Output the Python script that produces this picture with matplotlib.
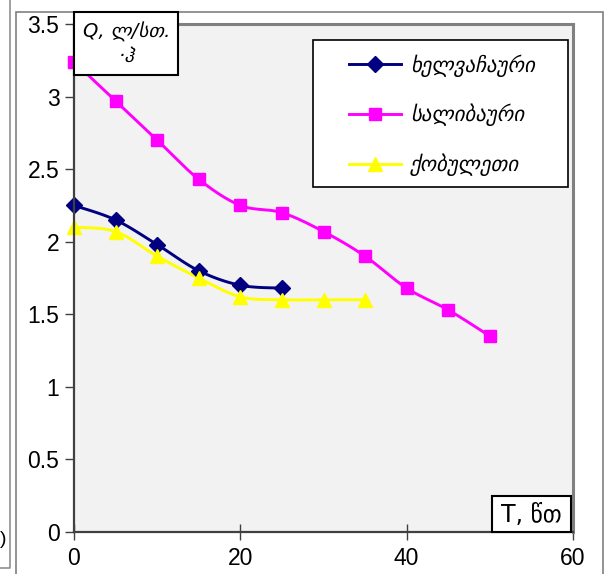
import numpy as np
import matplotlib
matplotlib.use("Agg")
import matplotlib.pyplot as plt
from matplotlib.patches import Rectangle
from matplotlib.lines import Line2D

# data
t_khelv = [0, 5, 10, 15, 20, 25]
q_khelv = [2.25, 2.15, 1.98, 1.80, 1.70, 1.68]
t_salib = [0, 5, 10, 15, 20, 25, 30, 35, 40, 45, 50]
q_salib = [3.24, 2.97, 2.70, 2.43, 2.25, 2.20, 2.07, 1.90, 1.68, 1.53, 1.35]
t_kobul = [0, 5, 10, 15, 20, 25, 30, 35]
q_kobul = [2.10, 2.07, 1.90, 1.75, 1.62, 1.60, 1.60, 1.60]

names = ["ხელვაჩაური", "სალიბაური", "ქობულეთი"]
colors = ["#000080", "#FF00FF", "#FFFF00"]
markers = ["D", "s", "^"]
msizes = [8, 9, 9.5]

x_ticks = [0, 20, 40, 60]
y_ticks = [0, 0.5, 1, 1.5, 2, 2.5, 3, 3.5]


def smooth(x, y, n=24):
    # excel-like smoothed line (catmull-rom as cubic bezier)
    x = np.asarray(x, float)
    y = np.asarray(y, float)
    px, py = [x[0]], [y[0]]
    for i in range(len(x) - 1):
        x0, y0 = (x[i - 1], y[i - 1]) if i > 0 else (x[i], y[i])
        x3, y3 = (x[i + 2], y[i + 2]) if i + 2 < len(x) else (x[i + 1], y[i + 1])
        x1, y1 = x[i], y[i]
        x2, y2 = x[i + 1], y[i + 1]
        c1x, c1y = x1 + (x2 - x0) / 6, y1 + (y2 - y0) / 6
        c2x, c2y = x2 - (x3 - x1) / 6, y2 - (y3 - y1) / 6
        s = np.linspace(0, 1, n)[1:]
        bx = (1 - s) ** 3 * x1 + 3 * (1 - s) ** 2 * s * c1x + 3 * (1 - s) * s ** 2 * c2x + s ** 3 * x2
        by = (1 - s) ** 3 * y1 + 3 * (1 - s) ** 2 * s * c1y + 3 * (1 - s) * s ** 2 * c2y + s ** 3 * y2
        px.extend(bx)
        py.extend(by)
    return px, py


W, H = 605, 574
fig = plt.figure(figsize=(W / 100, H / 100), dpi=100)
fig.patch.set_facecolor("white")


def fx(p):
    return p / W


def fy(p):
    return 1 - p / H


# surrounding frames (chart area + neighbouring chart edge)
fig.add_artist(Rectangle((fx(16), fy(590)), fx(603) - fx(16), fy(12) - fy(590),
                         transform=fig.transFigure, fill=False, ec="#808080", lw=1.2))
fig.add_artist(Line2D([fx(10), fx(10), fx(-5)], [fy(-5), fy(568), fy(568)],
                      transform=fig.transFigure, color="#909090", lw=1.2))
fig.text(fx(0), fy(539), ")", ha="left", va="center", fontsize=14,
         family="Liberation Sans")

ax = fig.add_axes([fx(74), 1 - 532 / H, 499 / W, 508 / H])
ax.set_facecolor("#F2F2F2")

series = [(t_khelv, q_khelv), (t_salib, q_salib), (t_kobul, q_kobul)]
handles = []
for (t, q), name, c, m, ms in zip(series, names, colors, markers, msizes):
    sx, sy = smooth(t, q)
    ax.plot(sx, sy, color=c, lw=2.1, zorder=3)
    ax.plot(t, q, ls="none", marker=m, ms=ms, color=c, mec=c, zorder=4, clip_on=False)
    handles.append(Line2D([], [], color=c, lw=2.1, marker=m, ms=ms, mec=c))

ax.set_xlim(0, 60)
ax.set_ylim(0, 3.5)
ax.set_xticks(x_ticks)
ax.set_yticks(y_ticks)
ax.set_xticklabels([str(v) for v in x_ticks])
ax.set_yticklabels([f"{v:g}" for v in y_ticks])
for lab in ax.get_xticklabels() + ax.get_yticklabels():
    lab.set_family("Liberation Sans")
    lab.set_fontsize(16.5)
ax.tick_params(axis="y", direction="out", length=6.5, width=1, color="#404040", pad=4)
ax.tick_params(axis="x", direction="inout", length=12, width=1, color="#404040", pad=5)

for s in ["top", "right"]:
    ax.spines[s].set_color("#808080")
    ax.spines[s].set_linewidth(2.2)
for s in ["left", "bottom"]:
    ax.spines[s].set_color("#404040")
    ax.spines[s].set_linewidth(1.6)
    ax.spines[s].set_zorder(5)

# legend: white box plus frameless legend centred in it
leg_box = Rectangle((fx(313), fy(187)), fx(568) - fx(313), fy(40) - fy(187),
                    transform=fig.transFigure, fc="white", ec="black", lw=1.2,
                    zorder=6, clip_on=False)
ax.add_artist(leg_box)
leg = ax.legend(handles, names, loc="center",
                bbox_to_anchor=(fx(442), fy(115)), bbox_transform=fig.transFigure,
                frameon=False,
                prop={"family": "DejaVu Sans", "style": "italic", "size": 15},
                handlelength=2.5, handletextpad=0.4, labelspacing=1.3,
                borderpad=0, borderaxespad=0)
leg.set_zorder(7)

# axis title boxes
fig.add_artist(Rectangle((fx(74), fy(75)), fx(178) - fx(74), fy(12) - fy(75),
                         transform=fig.transFigure, fc="white", ec="black", lw=1.5, zorder=7))
fig.text(fx(127), fy(44), "Q, ლ/სთ.\n·ჰ", ha="center", va="center", fontsize=14,
         style="italic", family="DejaVu Sans", linespacing=1.35, zorder=8)

fig.add_artist(Rectangle((fx(492), fy(532)), fx(571) - fx(492), fy(496) - fy(532),
                         transform=fig.transFigure, fc="white", ec="black", lw=1.5, zorder=7))
fig.text(fx(531), fy(515), "T, წთ", ha="center", va="center", fontsize=17,
         family="DejaVu Sans", zorder=8)

fig.savefig("out.png", dpi=100, facecolor="white")
